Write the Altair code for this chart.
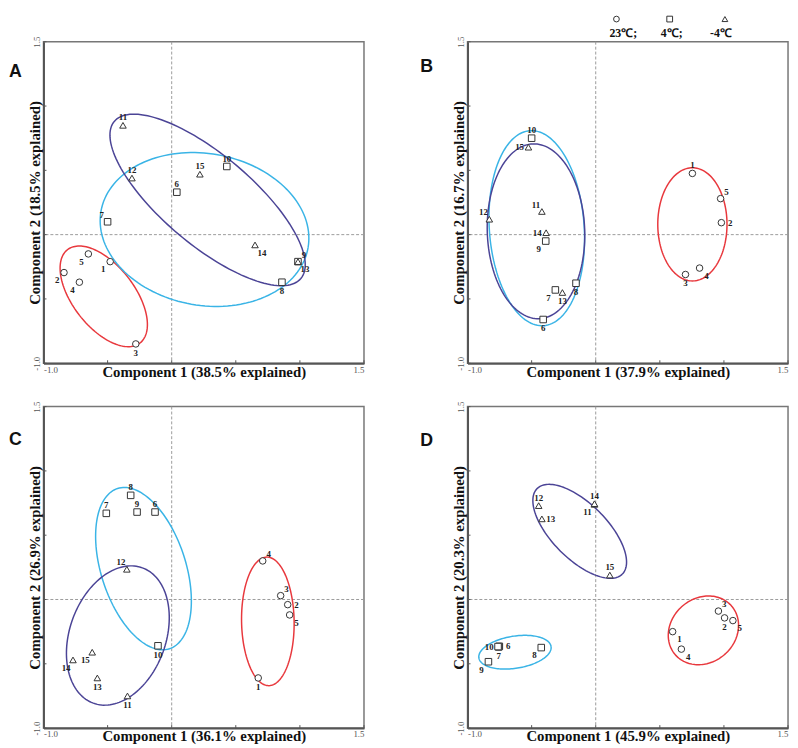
import altair as alt
import pandas as pd
import numpy as np

# ---------------- data ----------------
ids = list(range(1, 16))
GRP = ["23", "4", "-4"]
groups = ["23"] * 5 + ["4"] * 5 + ["-4"] * 5
TICKS = [-1.0, -0.5, 0.0, 0.5, 1.0, 1.5]

# Panel A
A_x = [-0.48, -0.84, -0.28, -0.72, -0.65, 0.04, -0.50, 0.86, 0.985, 0.43, -0.38, -0.31, 0.985, 0.65, 0.22]
A_y = [-0.21, -0.295, -0.85, -0.37, -0.15, 0.33, 0.10, -0.37, -0.21, 0.53, 0.85, 0.44, -0.21, -0.08, 0.47]
A_pos = ["SW", "SW", "S", "SW", "SW", "N", "NW", "S", "NE", "N", "N", "N", "SE", "SE", "N"]
A_ell = [("23", -0.53, -0.48, 0.46, 0.24, -52), ("4", 0.256, 0.04, 0.82, 0.59, -10), ("-4", 0.28, 0.27, 0.95, 0.35, -40)]
A_xt = "Component 1 (38.5% explained)"
A_yt = "Component 2 (18.5% explained)"

# Panel B
B_x = [0.754, 0.98, 0.70, 0.81, 0.974, -0.41, -0.315, -0.154, -0.39, -0.50, -0.42, -0.83, -0.26, -0.387, -0.525]
B_y = [0.476, 0.093, -0.31, -0.26, 0.28, -0.66, -0.43, -0.378, -0.05, 0.75, 0.18, 0.12, -0.45, 0.015, 0.68]
B_pos = ["N", "E", "S", "SE", "NE", "S", "SW", "S", "SW", "N", "NW", "NW", "S", "W", "W"]
B_ell = [("23", 0.754, 0.08, 0.44, 0.27, 90), ("4", -0.46, 0.05, 0.76, 0.37, 94), ("-4", -0.466, 0.026, 0.68, 0.38, 92)]
B_xt = "Component 1 (37.9% explained)"
B_yt = "Component 2 (16.7% explained)"

# Panel C
C_x = [0.675, 0.905, 0.85, 0.71, 0.92, -0.13, -0.51, -0.32, -0.27, -0.107, -0.345, -0.35, -0.58, -0.77, -0.62]
C_y = [-0.61, -0.04, 0.03, 0.30, -0.12, 0.68, 0.67, 0.81, 0.68, -0.36, -0.75, 0.235, -0.61, -0.47, -0.41]
C_pos = ["S", "E", "NE", "NE", "SE", "N", "N", "N", "N", "S", "S", "NW", "S", "SW", "SW"]
C_ell = [("23", 0.75, -0.17, 0.50, 0.205, 91), ("4", -0.22, 0.24, 0.655, 0.33, 108), ("-4", -0.42, -0.28, 0.56, 0.375, 70)]
C_xt = "Component 1 (36.1% explained)"
C_yt = "Component 2 (26.9% explained)"

# Panel D
D_x = [0.60, 1.005, 0.957, 0.668, 1.07, -0.752, -0.757, -0.425, -0.837, -0.762, -0.01, -0.445, -0.42, -0.01, 0.11]
D_y = [-0.25, -0.143, -0.09, -0.386, -0.164, -0.364, -0.369, -0.374, -0.484, -0.366, 0.74, 0.73, 0.627, 0.745, 0.19]
D_pos = ["SE", "S", "NE", "SE", "SE", "E", "S", "SW", "SW", "W", "SW", "N", "E", "N", "N"]
D_ell = [("23", 0.84, -0.24, 0.29, 0.25, 40), ("4", -0.63, -0.41, 0.285, 0.125, 9), ("-4", -0.125, 0.53, 0.47, 0.215, -45)]
D_xt = "Component 1 (45.9% explained)"
D_yt = "Component 2 (20.3% explained)"

LEG_TEXT = ["23\u2103;", "4\u2103;", "-4\u2103"]

# ---------------- styling ----------------
W, H = 325, 326
COLS = ["#e8383d", "#3ab4e6", "#4b4496"]
SHAPES = ["circle", "square", "triangle-up"]
SERIF = "Liberation Serif"
OFF = {"N": (0, -8), "S": (0, 9), "E": (9, 0), "W": (-9, 0),
       "NE": (6, -7), "NW": (-6, -7), "SE": (7, 8), "SW": (-7, 8)}
LABEL_EXPR = "datum.value == -1 ? '-1.0' : (datum.value == 1.5 ? '1.5' : '')"


def ellipse_df(params):
    rows = []
    t = np.linspace(0, 2 * np.pi, 145)
    for g, cx, cy, a, b, ang in params:
        th = np.radians(ang)
        ex = cx + a * np.cos(t) * np.cos(th) - b * np.sin(t) * np.sin(th)
        ey = cy + a * np.cos(t) * np.sin(th) + b * np.sin(t) * np.cos(th)
        for i, (u, v) in enumerate(zip(ex, ey)):
            rows.append({"g": g, "i": i, "ex": float(u), "ey": float(v)})
    return pd.DataFrame(rows)


def panel(xs, ys, pos, ell, xt, yt, letter, lx, ly, leg_op):
    df = pd.DataFrame({"id": ids, "x": xs, "y": ys, "g": groups, "pos": pos})
    edf = ellipse_df(ell)
    sc = alt.Scale(domain=[-1, 1.5], nice=False, zero=False)
    xa = alt.Axis(values=TICKS, labelExpr=LABEL_EXPR, labelFlush=True, labelFont=SERIF,
                  labelFontSize=9, labelColor="#555", labelPadding=2, ticks=False,
                  domainColor="#555", domainWidth=2, grid=False, title=xt,
                  titleFont=SERIF, titleFontSize=15, titleFontWeight="bold",
                  titleColor="#111", titleY=1, titleBaseline="top")
    ya = alt.Axis(values=TICKS, labelExpr=LABEL_EXPR, labelFlush=True, labelFont=SERIF,
                  labelFontSize=9, labelColor="#555", labelPadding=2, labelAngle=270,
                  ticks=False, domainColor="#555", domainWidth=2, grid=False, title=yt,
                  titleFont=SERIF, titleFontSize=15, titleFontWeight="bold",
                  titleColor="#111", titleAngle=270, titleX=-1, titleY=H / 2,
                  titleBaseline="bottom", titleAlign="center")

    def X(f):
        return alt.X(f, type="quantitative", scale=sc, axis=xa)

    def Y(f):
        return alt.Y(f, type="quantitative", scale=sc, axis=ya)

    zero = pd.DataFrame({"v": [0.0]})
    tdf = pd.DataFrame({"t": TICKS})
    layers = []
    layers.append(alt.Chart(zero).mark_rule(color="#9a9a9a", strokeDash=[3, 2], strokeWidth=1).encode(x=X("v")))
    layers.append(alt.Chart(zero).mark_rule(color="#9a9a9a", strokeDash=[3, 2], strokeWidth=1).encode(y=Y("v")))
    layers.append(alt.Chart(tdf).mark_rule(color="#555").encode(x=X("t"), y=alt.value(H), y2=alt.value(H - 3)))
    layers.append(alt.Chart(tdf).mark_rule(color="#555").encode(y=Y("t"), x=alt.value(0), x2=alt.value(3)))
    layers.append(alt.Chart(edf).mark_line(strokeWidth=1.5, interpolate="linear").encode(
        x=X("ex"), y=Y("ey"), order="i:Q", detail="g:N",
        color=alt.Color("g:N", scale=alt.Scale(domain=GRP, range=COLS), legend=None)))
    layers.append(alt.Chart(df).mark_point(filled=True, fill="white", stroke="#333", strokeWidth=1,
                                           size=44, opacity=1).encode(
        x=X("x"), y=Y("y"),
        shape=alt.Shape("g:N", scale=alt.Scale(domain=GRP, range=SHAPES), legend=None)))
    for d, (dx, dy) in OFF.items():
        layers.append(alt.Chart(df).transform_filter(alt.datum.pos == d).mark_text(
            dx=dx, dy=dy, font=SERIF, fontSize=9, fontWeight="bold", color="#222",
            align="center", baseline="middle").encode(x=X("x"), y=Y("y"), text="id:N"))
    # panel letter
    layers.append(alt.Chart(zero).mark_text(font="Liberation Sans", fontSize=18, fontWeight="bold",
                                            color="#111", align="left", baseline="middle").encode(
        x=alt.value(lx), y=alt.value(ly), text=alt.value(letter)))
    # legend (visible on B, invisible on A to keep the top row aligned)
    if leg_op is not None:
        sym_x = [151, 205, 261]
        txt_x = [158, 207, 257]
        for k in range(3):
            ldf = pd.DataFrame({"g": [GRP[k]], "lab": [LEG_TEXT[k]]})
            layers.append(alt.Chart(ldf).mark_point(filled=True, fill="white", stroke="#333", strokeWidth=1,
                                                    size=34, opacity=leg_op).encode(
                x=alt.value(sym_x[k]), y=alt.value(-23),
                shape=alt.Shape("g:N", scale=alt.Scale(domain=GRP, range=SHAPES), legend=None)))
            layers.append(alt.Chart(ldf).mark_text(font=SERIF, fontSize=12, fontWeight="bold", color="#111",
                                                   opacity=leg_op, align="center", baseline="middle").encode(
                x=alt.value(txt_x[k]), y=alt.value(-9), text="lab:N"))
    return alt.layer(*layers).properties(width=W, height=H)


pA = panel(A_x, A_y, A_pos, A_ell, A_xt, A_yt, "A", -35, 31, 0)
pB = panel(B_x, B_y, B_pos, B_ell, B_xt, B_yt, "B", -48, 26, 1)
pC = panel(C_x, C_y, C_pos, C_ell, C_xt, C_yt, "C", -35, 34, None)
pD = panel(D_x, D_y, D_pos, D_ell, D_xt, D_yt, "D", -48, 35, None)

top = alt.hconcat(pA, pB, spacing=54)
bottom = alt.hconcat(pC, pD, spacing=54)
chart = alt.vconcat(top, bottom, spacing=20).configure_view(
    stroke="#777", strokeWidth=1.5).properties(padding=0, background="white")

chart.save("out.html", embed_options={"renderer": "svg", "actions": False})
